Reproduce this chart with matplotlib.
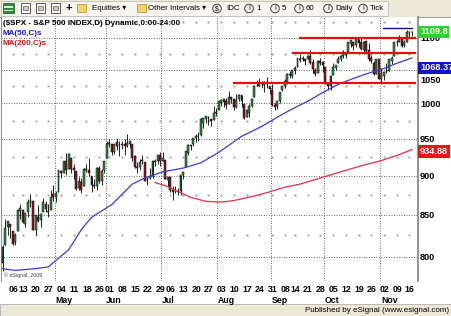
import numpy as np
import pandas as pd
import matplotlib
matplotlib.use('Agg')
import matplotlib.pyplot as plt
import matplotlib.transforms as mtrans
from matplotlib.patches import Rectangle, Circle
from matplotlib.ticker import NullLocator, NullFormatter

plt.rcParams['font.family'] = ['Liberation Sans', 'DejaVu Sans']

# trading days shown ($SPX daily, Apr 1 - Nov 18 2009)
holidays = ['2009-04-10', '2009-05-25', '2009-07-03', '2009-09-07']
dates = pd.bdate_range('2009-04-01', '2009-11-18')
dates = dates[~dates.isin(pd.to_datetime(holidays))]

# OHLC, one row per month
opens = [793, 814, 835, 839, 830, 817, 830, 855, 856, 839, 854, 865, 868, 831, 847, 844, 853, 863, 854, 856, 876,
         872, 879, 906, 903, 919, 909, 923, 910, 906, 884, 892, 886, 909, 908, 900, 888, 887, 910, 893, 907,
         924, 942, 943, 932, 945, 938, 941, 942, 940, 943, 942, 926, 911, 911, 919, 918, 894, 897, 899, 919, 920, 927,
         920, 921, 894, 898, 881, 881, 880, 880, 901, 911, 930, 941, 942, 951, 953, 955, 972, 978, 981, 977, 976, 986,
         990, 1001, 1006, 1003, 999, 1009, 1006, 994, 1006, 1012, 999, 980, 986, 996, 1009, 1026, 1026, 1028, 1027, 1032, 1025,
         1019, 997, 996, 1003, 1019, 1025, 1032, 1044, 1040, 1049, 1054, 1067, 1066, 1066, 1066, 1072, 1062, 1049, 1045, 1064, 1062,
         1055, 1029, 1026, 1042, 1053, 1061, 1066, 1071, 1075, 1078, 1090, 1094, 1088, 1098, 1093, 1080, 1095, 1080, 1068, 1061, 1044, 1066,
         1036, 1040, 1047, 1048, 1064, 1072, 1093, 1093, 1098, 1088, 1094, 1109, 1109]
highs = [813, 845, 842, 839, 830, 828, 856, 864, 856, 852, 870, 876, 868, 850, 862, 852, 871, 868, 864, 882, 888,
         880, 907, 907, 920, 930, 930, 923, 915, 906, 898, 897, 910, 916, 924, 900, 896, 911, 913, 909, 920,
         947, 950, 943, 942, 951, 946, 946, 949, 956, 947, 942, 928, 918, 922, 927, 918, 898, 910, 921, 922, 928, 931,
         932, 921, 898, 898, 886, 887, 884, 901, 905, 933, 943, 941, 951, 956, 959, 979, 979, 982, 982, 977, 996, 993,
         1003, 1007, 1006, 1008, 1018, 1010, 1006, 1013, 1013, 1012, 999, 991, 999, 1008, 1027, 1035, 1037, 1033, 1033, 1039, 1025,
         1028, 1000, 1003, 1016, 1026, 1036, 1045, 1048, 1050, 1056, 1068, 1074, 1071, 1066, 1073, 1081, 1066, 1053, 1065, 1069, 1063,
         1055, 1030, 1042, 1060, 1058, 1071, 1073, 1081, 1076, 1093, 1097, 1094, 1099, 1098, 1101, 1095, 1095, 1092, 1073, 1063, 1066, 1066,
         1053, 1046, 1061, 1066, 1071, 1094, 1096, 1105, 1101, 1097, 1113, 1111, 1111]
lows = [783, 814, 826, 822, 814, 814, 830, 845, 840, 835, 848, 860, 831, 826, 841, 835, 853, 854, 847, 856, 868,
        866, 879, 897, 903, 901, 909, 903, 896, 882, 882, 878, 886, 905, 899, 879, 884, 881, 891, 888, 903,
        924, 938, 927, 929, 934, 926, 936, 927, 939, 937, 919, 910, 903, 908, 915, 893, 888, 896, 897, 913, 916, 913,
        920, 896, 886, 879, 869, 878, 875, 875, 896, 911, 927, 934, 940, 945, 947, 953, 965, 972, 969, 968, 976, 982,
        990, 996, 994, 992, 999, 1000, 991, 993, 1003, 994, 978, 980, 981, 994, 1009, 1025, 1026, 1023, 1016, 1023, 1014,
        996, 991, 992, 1001, 1018, 1022, 1029, 1038, 1038, 1044, 1054, 1062, 1064, 1058, 1066, 1059, 1045, 1041, 1045, 1057, 1047,
        1029, 1019, 1020, 1042, 1050, 1060, 1063, 1068, 1069, 1078, 1086, 1081, 1085, 1086, 1080, 1074, 1075, 1063, 1060, 1042, 1044, 1036,
        1029, 1034, 1045, 1048, 1059, 1072, 1087, 1093, 1085, 1085, 1094, 1102, 1103]
closes = [811, 834, 842, 835, 815, 825, 856, 858, 841, 852, 866, 869, 832, 850, 843, 851, 866, 857, 855, 873, 873,
          877, 907, 903, 920, 907, 929, 909, 908, 883, 893, 882, 909, 908, 903, 888, 887, 910, 893, 906, 919,
          943, 944, 932, 942, 940, 940, 942, 940, 944, 946, 923, 911, 910, 918, 921, 893, 895, 900, 920, 918, 927, 919,
          923, 896, 898, 881, 879, 882, 879, 901, 905, 933, 941, 940, 951, 954, 954, 977, 979, 982, 979, 975, 986, 987,
          1003, 1005, 1002, 997, 1010, 1007, 994, 1005, 1012, 1004, 979, 990, 996, 1007, 1026, 1025, 1029, 1029, 1031, 1029, 1021,
          998, 994, 1003, 1016, 1025, 1033, 1044, 1042, 1049, 1053, 1068, 1065, 1068, 1064, 1071, 1061, 1051, 1044, 1063, 1061, 1057,
          1029, 1025, 1040, 1054, 1057, 1066, 1071, 1077, 1073, 1093, 1096, 1087, 1098, 1092, 1082, 1093, 1079, 1067, 1064, 1043, 1066, 1036,
          1042, 1046, 1047, 1066, 1069, 1093, 1093, 1099, 1087, 1093, 1109, 1110, 1110]

# moving averages (bar index, value)
ma50_idx = [0, 5, 13, 18, 20, 26, 31, 35, 43, 51, 56, 63, 71, 78, 85, 94, 102, 108, 114, 120, 126, 132, 138, 144, 150, 155, 161]
ma50_val = [786, 784, 786, 788, 793, 808, 832, 847, 863, 889, 897, 905, 910, 917, 931, 953, 967, 980, 992, 1003, 1016, 1028, 1037, 1045, 1052, 1060, 1068.37]
ma200_idx = [60, 64, 68, 74, 80, 86, 91, 98, 104, 111, 117, 125, 133, 141, 149, 156, 161]
ma200_val = [891, 887, 881, 872, 867, 866, 868, 873, 878, 885, 889, 897, 905, 913, 920, 928, 934.88]

# drawn support / resistance lines: (level, first bar, last bar, colour)
levels = [(1100, 116.8, 162.2, '#e01010'), (1076, 114.4, 162.2, '#e01010'),
          (1029.5, 91, 162.2, '#e01010'), (1116, 149.7, 161, '#101080')]

W, H = 452, 316
fig = plt.figure(figsize=(W / 100, H / 100), dpi=100)
fig.patch.set_facecolor('white')

# window chrome in pixel coordinates
bg = fig.add_axes([0, 0, 1, 1], zorder=0)
bg.set_xlim(0, W)
bg.set_ylim(H, 0)
bg.axis('off')
bg.add_patch(Rectangle((0, 0), W, 17, color='#ece9d8', lw=0))
bg.add_patch(Rectangle((0.5, 0.5), 388, 15.5, facecolor='#f6f5f0', edgecolor='#c0bfb5', lw=0.6))
bg.add_patch(Rectangle((3, 3), 11, 10, facecolor='#2f8a3a', edgecolor='#1d4d22', lw=0.5))
bg.add_patch(Rectangle((4, 6), 9, 1.5, color='#d8efd8', lw=0))
bg.add_patch(Rectangle((4, 9.5), 9, 1.5, color='#d8efd8', lw=0))
for x0 in [21, 36, 51]:
    bg.add_patch(Rectangle((x0, 3), 9, 10, facecolor='white', edgecolor='#404040', lw=0.6))
    bg.add_patch(Rectangle((x0 + 2, 6), 5, 4, facecolor='#c8c8c8', edgecolor='#404040', lw=0.4))
bg.text(68.5, 8.5, '+', fontsize=8, fontweight='bold', ha='center', va='center')
for x0 in [77, 137]:
    bg.add_patch(Rectangle((x0, 4), 9, 8, facecolor='#f3d36a', edgecolor='#a88a2a', lw=0.5))
bg.text(92, 8.5, 'Equities \u25be', fontsize=5.7, va='center')
bg.text(148, 8.5, 'Other Intervals \u25be', fontsize=5.7, va='center')
bg.add_patch(Circle((217, 8.5), 4.3, fill=False, edgecolor='#202020', lw=0.6))
bg.text(217, 8.7, r'\$', fontsize=5, ha='center', va='center')
bg.text(226, 8.5, 'IDC', fontsize=5.7, va='center')
for cx, lab in [(249, '1'), (275, '5'), (299, '60'), (328, 'Daily'), (363, 'Tick')]:
    bg.add_patch(Circle((cx, 8.5), 4.3, fill=False, edgecolor='#202020', lw=0.6))
    bg.text(cx, 8.7, 'I', fontsize=5, ha='center', va='center')
    bg.text(cx + 7, 8.5, lab, fontsize=5.7, va='center')
bg.plot([0, W], [16.5, 16.5], color='#a0a0a0', lw=0.8)
bg.add_patch(Rectangle((0, 304), W, 12, facecolor='#ece9d8', edgecolor='#b0b0b0', lw=0.6))
bg.text(449, 310.5, 'Published by eSignal (www.esignal.com)', fontsize=5.8, ha='right', va='center')

# price panel
ax = fig.add_axes([1 / W, 1 - 281 / H, 417 / W, 264 / H], zorder=1)
ax.set_facecolor('white')
ax.set_yscale('log')
ax.set_ylim(772, 1134)
ax.set_xlim(-0.6, 163.4)

x = np.arange(len(dates))
o, h, l, c = map(np.array, (opens, highs, lows, closes))
up = c >= o
body_col = np.where(up, '#3a8a4a', '#8c1c2a')
ax.vlines(x, l, h, color='black', lw=0.6, zorder=3)
ax.bar(x, np.maximum(np.abs(c - o), 0.8), bottom=np.minimum(o, c), width=0.75,
       color=body_col, edgecolor='black', linewidth=0.35, zorder=4)

ax.plot(ma50_idx, ma50_val, color='#3c3cd0', lw=0.9, zorder=5)
ax.plot(ma200_idx, ma200_val, color='#e0304a', lw=0.9, zorder=5)
for lev, x0, x1, col in levels:
    ax.plot([x0, x1], [lev, lev], color=col, lw=1.6 if col == '#e01010' else 1.0, zorder=6)

# week / month positions come from the calendar
s = pd.Series(dates)
week_start = [i for i in range(1, len(s)) if s[i].weekday() < s[i - 1].weekday() or (s[i] - s[i - 1]).days > 3]
month_start = [i for i in range(1, len(s)) if s[i].month != s[i - 1].month]

yt = [800, 850, 900, 950, 1000, 1050, 1100]
ax.set_yticks(yt)
ax.set_yticklabels([str(v) if v != 1050 else '' for v in yt])
ax.yaxis.set_minor_locator(NullLocator())
ax.yaxis.set_minor_formatter(NullFormatter())
ax.yaxis.tick_right()
ax.tick_params(axis='y', length=0, pad=1.5, labelsize=6.6)
for t in ax.get_yticklabels():
    t.set_fontweight('bold')
    if t.get_text() == '1100':
        t.set_zorder(0)
ax.grid(axis='y', color='#303030', linestyle=(0, (1, 2)), lw=0.6)
for i in month_start:
    ax.axvline(i - 0.5, color='#303030', linestyle=(0, (1, 2)), lw=0.6, zorder=1)
mid = [825, 875, 925, 975, 1025, 1075, 1125]
gx, gy = np.meshgrid(np.array(week_start) + 1, mid)
ax.plot(gx.ravel(), gy.ravel(), ls='none', marker='s', ms=0.6, color='#a8a8a8', zorder=1)

ax.set_xticks(week_start)
ax.set_xticklabels([dates[i].strftime('%d') for i in week_start], fontsize=6.3, fontweight='bold')
ax.tick_params(axis='x', length=0, pad=3)
shift = mtrans.ScaledTranslation(3 / 100, 0, fig.dpi_scale_trans)
for t in ax.get_xticklabels():
    t.set_transform(t.get_transform() + shift)
for i in month_start:
    ax.text(i - 0.2, -0.072, dates[i].strftime('%b'), transform=ax.get_xaxis_transform(),
            fontsize=6.3, fontweight='bold', ha='left', va='center')

ax.annotate('1050', xy=(1, 1050), xycoords=('axes fraction', 'data'), xytext=(1.5, -7.9),
            textcoords='offset points', fontsize=6.6, fontweight='bold', va='center', annotation_clip=False)
for val, col, dy in [('1109.8', '#2fcf2f', 0), ('1068.37', '#1414c8', -7.2), ('934.88', '#f01414', -1.4)]:
    ax.annotate(val, xy=(1, float(val)), xycoords=('axes fraction', 'data'), xytext=(1.5, dy),
                textcoords='offset points', fontsize=6.6, fontweight='bold', color='white', va='center',
                bbox=dict(boxstyle='square,pad=0.18', fc=col, ec='none'), annotation_clip=False, zorder=10)

for sp in ['top', 'bottom']:
    ax.spines[sp].set_visible(False)
ax.spines['left'].set_color('#909090')
ax.spines['right'].set_color('#808080')
ax.spines['right'].set_linewidth(1.2)

ax.text(0.004, 0.977, r'(\$SPX - S&P 500 INDEX,D) Dynamic,0:00-24:00', transform=ax.transAxes,
        fontsize=5.8, fontweight='bold', va='center')
ax.text(0.004, 0.936, 'MA(50,C)s', transform=ax.transAxes, fontsize=5.8, fontweight='bold', color='#1515d0', va='center')
ax.text(0.004, 0.898, 'MA(200,C)s', transform=ax.transAxes, fontsize=5.8, fontweight='bold', color='#e01515', va='center')
ax.text(0.006, 0.012, '\u00a9 eSignal, 2009', transform=ax.transAxes, fontsize=3.8, color='#404040', va='bottom')

fig.savefig('out.png', dpi=100)
